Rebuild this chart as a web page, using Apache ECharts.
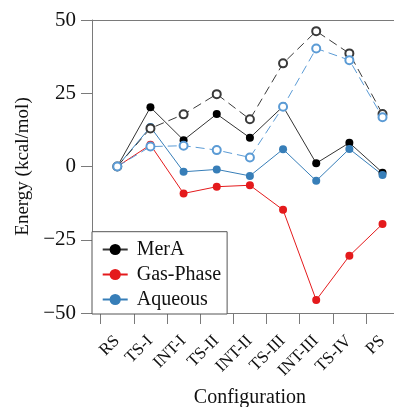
<!DOCTYPE html>
<html><head><meta charset="utf-8">
<script src="https://cdn.jsdelivr.net/npm/echarts@6/dist/echarts.min.js"></script>
<style>html,body{margin:0;padding:0;background:#fff}#c{width:394px;height:407px}</style>
</head><body><div id="c"></div>
<script>
const categories = ['RS','TS-I','INT-I','TS-II','INT-II','TS-III','INT-III','TS-IV','PS'];
const merA      = [0, 20.2, 9.0, 17.9, 9.8, 20.5, 1.1, 8.1, -2.1];
const merADash  = [0, 13.0, 17.8, 24.7, 16.1, 35.2, 46.2, 38.6, 17.9];
const gasPhase  = [0, 7.4, -9.2, -6.9, -6.4, -14.8, -45.6, -30.5, -19.6];
const aqueous   = [0, 13.5, -1.8, -1.0, -3.2, 5.9, -4.9, 6.0, -2.9];
const aqueousDash = [0, 6.8, 7.1, 5.6, 3.1, 20.4, 40.3, 36.3, 16.8];
const yTicks = [-50, -25, 0, 25, 50];

const FONT = 'Liberation Serif';
const AX = '#7a7a7a';
const chart = echarts.init(document.getElementById('c'), null, {renderer:'canvas'});

function solid(name, data, color, lineColor){
  return {name, type:'line', data, symbol:'circle', symbolSize:8,
    lineStyle:{color:lineColor||color, width:1}, itemStyle:{color}, z:2};
}
function dashed(name, data, color){
  return {name, type:'line', data, symbol:'emptyCircle', symbolSize:8,
    lineStyle:{color, width:1, type:[9,5]}, itemStyle:{color, borderColor:color, borderWidth:1}, z:3};
}

chart.setOption({
  animation:false,
  textStyle:{fontFamily:FONT},
  grid:{left:100.7, right:-5.1, top:20, bottom:94, containLabel:false, outerBoundsMode:'none'},
  xAxis:[{
    type:'category', data:categories, boundaryGap:true,
    axisLine:{show:true, onZero:false, lineStyle:{color:AX, width:1}},
    axisTick:{show:true, length:11, inside:false, alignWithLabel:false, lineStyle:{color:AX}},
    axisLabel:{rotate:45, fontSize:17, color:'#111', fontFamily:FONT, margin:13, interval:0,
      align:'right', verticalAlign:'top', padding:[0,9,0,0]},
    name:'Configuration', nameLocation:'middle', nameGap:75,
    nameTextStyle:{fontSize:20, color:'#111', fontFamily:FONT},
    splitLine:{show:false}
  }],
  yAxis:{
    type:'value', min:yTicks[0], max:yTicks[yTicks.length-1], interval:25, offset:8.7,
    axisLine:{show:true, lineStyle:{color:AX, width:1}},
    axisTick:{show:true, length:11, lineStyle:{color:AX}},
    axisLabel:{fontSize:21, color:'#111', fontFamily:FONT, margin:16,
      formatter:v => v<0 ? '\u2212'+Math.abs(v) : String(v)},
    name:'Energy (kcal/mol)', nameLocation:'middle', nameGap:52, nameRotate:90,
    nameTextStyle:{fontSize:19, color:'#111', fontFamily:FONT},
    splitLine:{show:false}
  },
  legend:{
    data:['MerA','Gas-Phase','Aqueous'], orient:'vertical',
    left:92, top:231.7, itemWidth:25, itemHeight:14, itemGap:5,
    padding:[7.8,6,4.5,9.7],
    borderColor:'#555', borderWidth:1, backgroundColor:'#fff',
    textStyle:{fontSize:20, color:'#111', fontFamily:FONT, lineHeight:20, padding:[0,0,0,4]},
    z:10
  },
  graphic:[{type:'line', shape:{x1:92, y1:20.5, x2:394, y2:20.5}, style:{stroke:AX, lineWidth:1}, silent:true}],
  series:[
    solid('MerA', merA, '#000000', '#333333'),
    solid('Gas-Phase', gasPhase, '#e41a1c'),
    solid('Aqueous', aqueous, '#377eb8'),
    dashed('MerA (dashed)', merADash, '#3a3a3a'),
    dashed('Aqueous (dashed)', aqueousDash, '#5b9bd5')
  ]
});
</script></body></html>
